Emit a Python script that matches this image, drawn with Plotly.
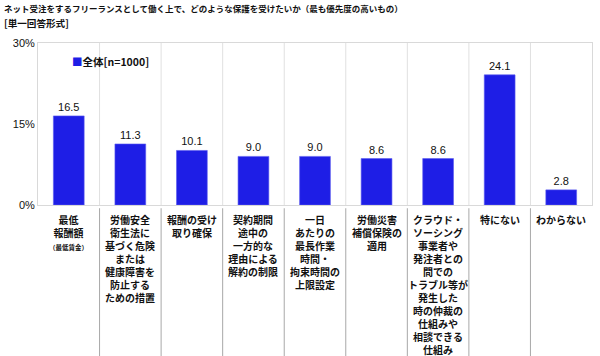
import plotly.graph_objects as go

categories = [
    "最低<br>報酬額<br><span style='font-size:6.5px'>（最低賃金）</span>",
    "労働安全<br>衛生法に<br>基づく危険<br>または<br>健康障害を<br>防止する<br>ための措置",
    "報酬の受け<br>取り確保",
    "契約期間<br>途中の<br>一方的な<br>理由による<br>解約の制限",
    "一日<br>あたりの<br>最長作業<br>時間・<br>拘束時間の<br>上限設定",
    "労働災害<br>補償保険の<br>適用",
    "クラウド・<br>ソーシング<br>事業者や<br>発注者との<br>間での<br>トラブル等が<br>発生した<br>時の仲裁の<br>仕組みや<br>相談できる<br>仕組み",
    "特にない",
    "わからない",
]
values = [16.5, 11.3, 10.1, 9.0, 9.0, 8.6, 8.6, 24.1, 2.8]
series_name = "全体[n=1000]"
title_line1 = "ネット受注をするフリーランスとして働く上で、どのような保護を受けたいか（最も優先度の高いもの）"
title_line2 = "[単一回答形式]"
ytick_vals = [0, 15, 30]
ytick_text = ["0%", "15%", "30%"]

JP = "Noto Sans CJK JP"
NUM = "Liberation Sans, Arial, sans-serif"
BLUE = "#1E1EE6"

PLOT_H = 162.0
PLOT_W = 554.0

xs = list(range(len(values)))

fig = go.Figure()
fig.add_trace(go.Bar(
    x=xs, y=values, name=series_name, showlegend=False,
    marker=dict(color=BLUE, line=dict(color="#5a5af0", width=0.6)),
    text=[f"{v:.1f}" for v in values],
    textposition="outside",
    textfont=dict(family=NUM, size=11, color="#111"),
    cliponaxis=False,
    hoverinfo="skip",
))

shapes = []
n = len(values)
for i in range(n - 1):
    shapes.append(dict(type="line", xref="x", yref="y", x0=i + 0.5, x1=i + 0.5,
                       y0=0, y1=30, line=dict(color="#e0e0e0", width=1), layer="below"))
    shapes.append(dict(type="line", xref="x", yref="paper", x0=i + 0.5, x1=i + 0.5,
                       y0=-0.02, y1=-0.94, line=dict(color="#a8a8a8", width=1)))

annotations = [
    dict(text="<b>" + title_line1 + "</b>", xref="paper", yref="paper", x=-36 / PLOT_W, y=1 + 35 / PLOT_H,
         xanchor="left", yanchor="middle", showarrow=False,
         font=dict(family=JP, size=8.5, color="#111")),
    dict(text="<b>" + title_line2 + "</b>", xref="paper", yref="paper", x=-36 / PLOT_W, y=1 + 20 / PLOT_H,
         xanchor="left", yanchor="middle", showarrow=False,
         font=dict(family=JP, size=9.6, color="#111")),
    dict(text="<span style='color:%s'>■</span><b>%s</b>" % (BLUE, series_name),
         xref="paper", yref="paper", x=(70 - 38) / PLOT_W, y=(205 - 62) / PLOT_H,
         xanchor="left", yanchor="middle", showarrow=False,
         font=dict(family=JP, size=10.5, color="#111")),
]

for i, lab in enumerate(categories):
    annotations.append(dict(
        text="<b>" + lab + "</b>", xref="x", yref="paper", x=xs[i], y=-(210 - 205) / PLOT_H,
        xanchor="center", yanchor="top", align="center", showarrow=False,
        font=dict(family=JP, size=10, color="#111")))

fig.update_layout(
    width=600, height=356,
    margin=dict(l=38, r=8, t=43, b=151),
    paper_bgcolor="white", plot_bgcolor="white",
    bargap=0.5,
    showlegend=False,
    hovermode=False,
    shapes=shapes,
    xaxis=dict(range=[-0.5, n - 0.5], tickmode="array", tickvals=xs, ticktext=[""] * n,
               showticklabels=False,
               showgrid=False, showline=True, linecolor="#d9d9d9", mirror=True,
               ticks="", fixedrange=True),
    yaxis=dict(range=[0, 30], tickmode="array", tickvals=ytick_vals, ticktext=ytick_text,
               showgrid=False, showline=True, linecolor="#d9d9d9", mirror=True, ticks="",
               zeroline=False, fixedrange=True, tickfont=dict(family=NUM, size=11, color="#111")),
    annotations=annotations,
)

fig.write_html("out.html", config={"displayModeBar": False},
               post_script="document.body.style.margin='0px';")
